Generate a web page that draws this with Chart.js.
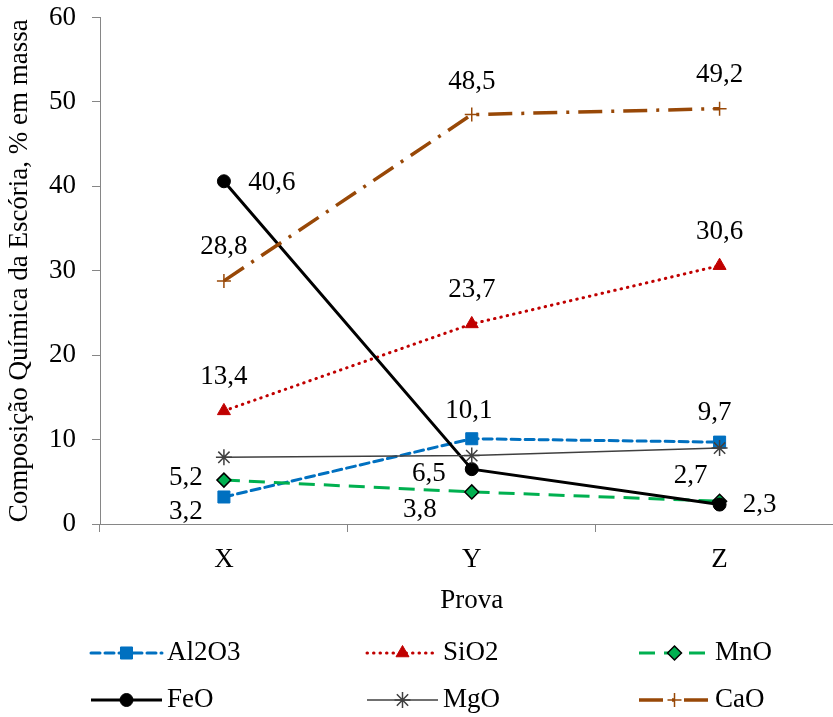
<!DOCTYPE html>
<html>
<head>
<meta charset="utf-8">
<script src="https://cdn.jsdelivr.net/npm/chart.js@4"></script>
<style>
html, body { margin: 0; padding: 0; background: #fff; overflow: hidden; }
#wrap { width: 853px; height: 717px; }
</style>
</head>
<body>
<div id="wrap"><canvas id="myChart" width="853" height="717"></canvas></div>
<script>
// Composição da escória por prova
var provas = ['X', 'Y', 'Z'];
var al2o3 = [3.2, 10.1, 9.7];
var sio2 = [13.4, 23.7, 30.6];
var mno = [5.2, 3.8, 2.7];
var feo = [40.6, 6.5, 2.3];
var mgo = [7.9, 8.1, 9.0];
var cao = [28.8, 48.5, 49.2];
var yTicks = [0, 10, 20, 30, 40, 50, 60];

var FONT = "'Liberation Serif', 'Times New Roman', serif";
var FSIZE = 27;

// where each value label sits relative to its point (dx, dy in px)
var labelOffsets = {
    'Al2O3': [[-38, 15], [-3, -28], [-5, -29]],
    'SiO2': [[0, -34], [0, -34], [0, -34]],
    'MnO': [[-38, -2], [-52, 18], [-29, -25]],
    'FeO': [[48, 2], [-43, 5], [40, 0]],
    'CaO': [[0, -34], [0, -33], [0, -34]]
};

function serie(label, data, color, width, dash, cap, style, radius, fill, border, bw, order) {
    return {
        label: label,
        data: data,
        borderColor: color,
        borderWidth: width,
        borderDash: dash,
        borderCapStyle: cap,
        pointStyle: style,
        pointRadius: radius,
        pointHoverRadius: radius,
        pointBackgroundColor: fill,
        pointBorderColor: border,
        pointBorderWidth: bw,
        tension: 0,
        fill: false,
        order: order
    };
}

var datasets = [
    serie('Al2O3', al2o3, '#0070C0', 3, [9, 5], 'round', 'rect', 8.5, '#0070C0', '#0070C0', 1, 6),
    serie('SiO2', sio2, '#C00000', 3, [0.5, 6], 'round', 'triangle', 7.5, '#C00000', '#C00000', 1, 5),
    serie('MnO', mno, '#00B050', 3, [16, 9], 'butt', 'rectRot', 7, '#00B050', '#000000', 1.5, 4),
    serie('FeO', feo, '#000000', 3, [], 'butt', 'circle', 6.5, '#000000', '#000000', 1, 3),
    serie('MgO', mgo, '#404040', 1.5, [], 'butt', 'star', 8, '#404040', '#404040', 1.5, 2),
    serie('CaO', cao, '#984807', 3.5, [24, 9, 3, 9], 'butt', 'cross', 7, '#984807', '#984807', 1.5, 1)
];

function fmt(v) {
    return v.toFixed(1).replace('.', ',');
}

// value labels next to the points
var valueLabels = {
    id: 'valueLabels',
    afterDatasetsDraw: function(chart) {
        var ctx = chart.ctx;
        ctx.save();
        ctx.font = FSIZE + 'px ' + FONT;
        ctx.fillStyle = '#000';
        ctx.textAlign = 'center';
        ctx.textBaseline = 'middle';
        chart.data.datasets.forEach(function(ds, i) {
            var offs = labelOffsets[ds.label];
            if (!offs) return;
            var meta = chart.getDatasetMeta(i);
            meta.data.forEach(function(pt, j) {
                ctx.fillText(fmt(ds.data[j]), pt.x + offs[j][0], pt.y + offs[j][1]);
            });
        });
        ctx.restore();
    }
};

// legend: 3 columns x 2 rows under the axis title
var legendBox = {
    id: 'legendBox',
    afterDraw: function(chart) {
        var ctx = chart.ctx;
        var cols = [91, 367, 639];
        var rows = [653, 700];
        var sample = 71;
        chart.data.datasets.forEach(function(ds, i) {
            var x = cols[i % 3];
            var y = rows[Math.floor(i / 3)];
            ctx.save();
            ctx.strokeStyle = ds.borderColor;
            ctx.lineWidth = ds.borderWidth;
            ctx.lineCap = ds.borderCapStyle;
            ctx.setLineDash(ds.borderDash);
            ctx.beginPath();
            ctx.moveTo(x, y);
            ctx.lineTo(x + sample, y);
            ctx.stroke();
            ctx.setLineDash([]);
            ctx.lineCap = 'butt';
            ctx.fillStyle = ds.pointBackgroundColor;
            ctx.strokeStyle = ds.pointBorderColor;
            ctx.lineWidth = ds.pointBorderWidth;
            Chart.helpers.drawPoint(ctx, {
                pointStyle: ds.pointStyle,
                radius: ds.pointRadius,
                rotation: 0,
                borderWidth: ds.pointBorderWidth
            }, x + sample / 2, y);
            ctx.fillStyle = '#000';
            ctx.font = FSIZE + 'px ' + FONT;
            ctx.textAlign = 'left';
            ctx.textBaseline = 'middle';
            ctx.fillText(ds.label, x + sample + 5, y);
            ctx.restore();
        });
    }
};

Chart.defaults.font.family = FONT;
Chart.defaults.color = '#000';

var ctx = document.getElementById('myChart').getContext('2d');
var chart = new Chart(ctx, {
    type: 'line',
    data: {
        labels: provas,
        datasets: datasets
    },
    options: {
        responsive: false,
        animation: false,
        devicePixelRatio: 1,
        layout: {
            padding: { top: 0, right: 0, bottom: 100, left: 0 }
        },
        plugins: {
            legend: { display: false },
            tooltip: { enabled: false }
        },
        scales: {
            x: {
                offset: true,
                grid: { offset: true, drawOnChartArea: false, tickLength: 8, color: '#868686', lineWidth: 1 },
                border: { color: '#868686', width: 1 },
                ticks: { font: { size: FSIZE }, color: '#000', padding: 12 },
                title: { display: true, text: 'Prova', font: { size: FSIZE }, color: '#000', padding: { top: 0, bottom: 0 } },
                afterFit: function(s) { s.height = 93; }
            },
            y: {
                min: yTicks[0],
                max: yTicks[yTicks.length - 1],
                grid: { drawOnChartArea: false, tickLength: 8, color: '#868686', lineWidth: 1 },
                border: { color: '#868686', width: 1 },
                ticks: { stepSize: yTicks[1] - yTicks[0], font: { size: FSIZE }, color: '#000', padding: 16 },
                title: { display: true, text: 'Composição Química da Escória, % em massa', font: { size: FSIZE }, color: '#000', padding: { top: 4, bottom: 0 } },
                afterFit: function(s) {
                    s.width = 100;
                    s.paddingTop = 17.5;   // top of the axis sits just under the "60" label
                }
            }
        }
    },
    plugins: [valueLabels, legendBox]
});
</script>
</body>
</html>
